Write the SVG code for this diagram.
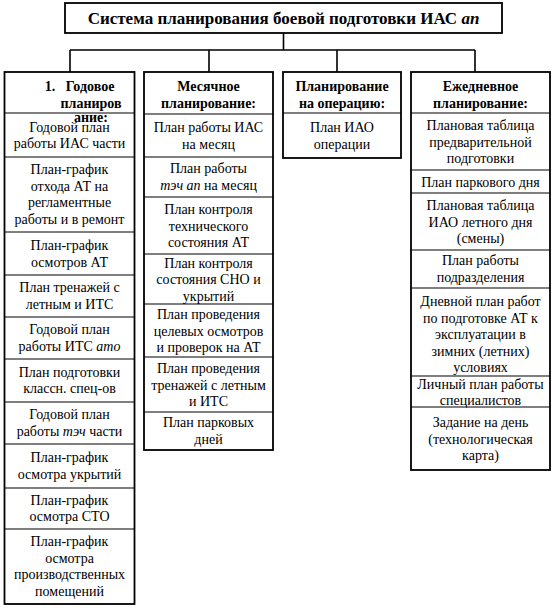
<svg xmlns="http://www.w3.org/2000/svg" width="553" height="610" viewBox="0 0 553 610">
<style>
text{fill:#000;text-anchor:middle}
.t{font-size:14px}
.h{font-size:14px;font-weight:bold}
.ttl{font-size:17px;font-weight:bold}
.box{fill:#fff;stroke:#000;stroke-width:1.8}
.div{stroke:#000;stroke-width:1.2}
.con{stroke:#000;stroke-width:1.6;fill:none}
</style>
<rect width="553" height="610" fill="#fff"/>
<g id="connectors">
<path class="con" d="M283.5 33V50M70 50H475M70 50V72M209 50V72M337 50V72M475 50V72"/>
</g>
<g font-family="'Liberation Serif', Tinos, 'Noto Serif', 'DejaVu Serif', FreeSerif, 'Times New Roman', serif">
<g id="title">
<rect class="box" x="65" y="3" width="437" height="30" stroke-width="2"/>
<text class="ttl" x="283.5" y="24">Система планирования боевой подготовки ИАС <tspan font-style="italic">ап</tspan></text>
</g>
<g id="col-annual">
<rect class="box" x="4.5" y="72" width="130" height="532"/>
<path class="div" d="M4.5 113H134.5M4.5 157H134.5M4.5 232H134.5M4.5 275H134.5M4.5 317H134.5M4.5 359H134.5M4.5 402H134.5M4.5 444H134.5M4.5 488H134.5M4.5 529H134.5"/>
<g id="annual-header">
<text class="h" x="50" y="91">1.</text>
<text class="h" x="90" y="91">Годовое</text>
<text class="h" x="91" y="108">планиров</text>
<text class="h" x="91" y="122">ание:</text>
</g>
<g id="annual-1"><text class="t" x="69.5" y="131.5">Годовой план</text><text class="t" x="69.5" y="148">работы ИАС части</text></g>
<g id="annual-2"><text class="t" x="69.5" y="174">План-график</text><text class="t" x="69.5" y="190.5">отхода АТ на</text><text class="t" x="69.5" y="207">регламентные</text><text class="t" x="69.5" y="223.5">работы и в ремонт</text></g>
<g id="annual-3"><text class="t" x="69.5" y="250">План-график</text><text class="t" x="69.5" y="266.5">осмотров АТ</text></g>
<g id="annual-4"><text class="t" x="69.5" y="292">План тренажей с</text><text class="t" x="69.5" y="308.5">летным и ИТС</text></g>
<g id="annual-5"><text class="t" x="69.5" y="334">Годовой план</text><text class="t" x="69.5" y="350.5">работы ИТС <tspan font-style="italic">ато</tspan></text></g>
<g id="annual-6"><text class="t" x="69.5" y="376.5">План подготовки</text><text class="t" x="69.5" y="393">классн. спец-ов</text></g>
<g id="annual-7"><text class="t" x="69.5" y="419">Годовой план</text><text class="t" x="69.5" y="435.5">работы <tspan font-style="italic">тэч</tspan> части</text></g>
<g id="annual-8"><text class="t" x="69.5" y="462">План-график</text><text class="t" x="69.5" y="478.5">осмотра укрытий</text></g>
<g id="annual-9"><text class="t" x="69.5" y="504.5">План-график</text><text class="t" x="69.5" y="521">осмотра СТО</text></g>
<g id="annual-10"><text class="t" x="69.5" y="546">План-график</text><text class="t" x="69.5" y="562.5">осмотра</text><text class="t" x="69.5" y="579">производственных</text><text class="t" x="69.5" y="595.5">помещений</text></g>
</g>
<g id="col-monthly">
<rect class="box" x="144" y="72" width="129" height="378"/>
<path class="div" d="M144 114H273M144 157H273M144 197H273M144 254H273M144 304H273M144 357H273M144 412H273"/>
<g id="monthly-header"><text class="h" x="208.5" y="91">Месячное</text><text class="h" x="208.5" y="108">планирование:</text></g>
<g id="monthly-1"><text class="t" x="208.5" y="132">План работы ИАС</text><text class="t" x="208.5" y="148.5">на месяц</text></g>
<g id="monthly-2"><text class="t" x="208.5" y="173">План работы</text><text class="t" x="208.5" y="189.5"><tspan font-style="italic">тэч ап</tspan> на месяц</text></g>
<g id="monthly-3"><text class="t" x="208.5" y="214">План контроля</text><text class="t" x="208.5" y="230.5">технического</text><text class="t" x="208.5" y="247">состояния АТ</text></g>
<g id="monthly-4"><text class="t" x="208.5" y="267.5">План контроля</text><text class="t" x="208.5" y="284">состояния СНО и</text><text class="t" x="208.5" y="300.5">укрытий</text></g>
<g id="monthly-5"><text class="t" x="208.5" y="319">План проведения</text><text class="t" x="208.5" y="335.5">целевых осмотров</text><text class="t" x="208.5" y="352">и проверок на АТ</text></g>
<g id="monthly-6"><text class="t" x="208.5" y="373">План проведения</text><text class="t" x="208.5" y="389.5">тренажей с летным</text><text class="t" x="208.5" y="406">и ИТС</text></g>
<g id="monthly-7"><text class="t" x="208.5" y="427">План парковых</text><text class="t" x="208.5" y="443.5">дней</text></g>
</g>
<g id="col-operation">
<rect class="box" x="283" y="72" width="118" height="86"/>
<path class="div" d="M283 113H401"/>
<g id="operation-header"><text class="h" x="342" y="91">Планирование</text><text class="h" x="342" y="108">на операцию:</text></g>
<g id="operation-1"><text class="t" x="342" y="132">План ИАО</text><text class="t" x="342" y="148.5">операции</text></g>
</g>
<g id="col-daily">
<rect class="box" x="411" y="72" width="139" height="398"/>
<path class="div" d="M411 113H550M411 170H550M411 193H550M411 250H550M411 288H550M411 376H550M411 407H550"/>
<g id="daily-header"><text class="h" x="480.5" y="91">Ежедневное</text><text class="h" x="480.5" y="108">планирование:</text></g>
<g id="daily-1"><text class="t" x="480.5" y="130">Плановая таблица</text><text class="t" x="480.5" y="146.5">предварительной</text><text class="t" x="480.5" y="163">подготовки</text></g>
<g id="daily-2"><text class="t" x="480.5" y="186.5">План паркового дня</text></g>
<g id="daily-3"><text class="t" x="480.5" y="210">Плановая таблица</text><text class="t" x="480.5" y="226.5">ИАО летного дня</text><text class="t" x="480.5" y="243">(смены)</text></g>
<g id="daily-4"><text class="t" x="480.5" y="265">План работы</text><text class="t" x="480.5" y="281.5">подразделения</text></g>
<g id="daily-5"><text class="t" x="480.5" y="306">Дневной план работ</text><text class="t" x="480.5" y="322.5">по подготовке АТ к</text><text class="t" x="480.5" y="339">эксплуатации в</text><text class="t" x="480.5" y="355.5">зимних (летних)</text><text class="t" x="480.5" y="372">условиях</text></g>
<g id="daily-6"><text class="t" x="480.5" y="388.5">Личный план работы</text><text class="t" x="480.5" y="404.5">специалистов</text></g>
<g id="daily-7"><text class="t" x="480.5" y="427">Задание на день</text><text class="t" x="480.5" y="443.5">(технологическая</text><text class="t" x="480.5" y="460">карта)</text></g>
</g>
</g>
</svg>
